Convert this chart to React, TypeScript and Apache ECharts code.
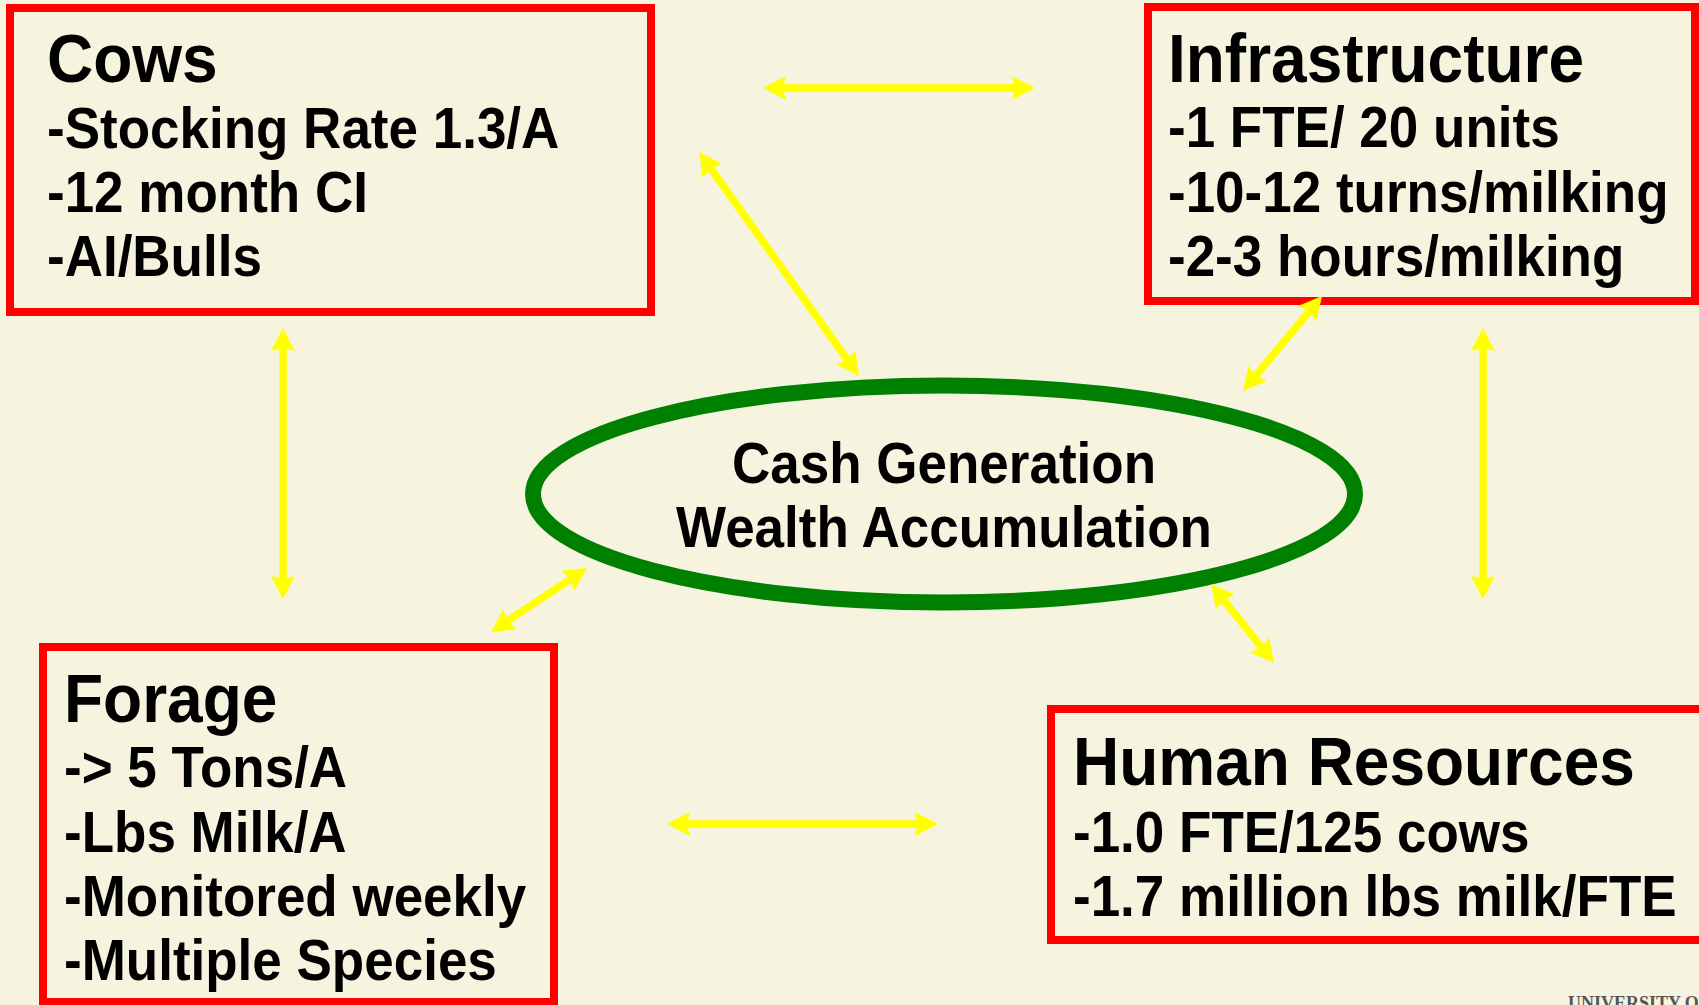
import React, { useEffect, useRef } from "react";
import * as echarts from "echarts";

// ---- content ----
const boxTitles = ["Cows", "Infrastructure", "Forage", "Human Resources"];
const cowsItems = ["-Stocking Rate 1.3/A", "-12 month CI", "-AI/Bulls"];
const infraItems = ["-1 FTE/ 20 units", "-10-12 turns/milking", "-2-3 hours/milking"];
const forageItems = ["-> 5 Tons/A", "-Lbs Milk/A", "-Monitored weekly", "-Multiple Species"];
const hrItems = ["-1.0 FTE/125 cows", "-1.7 million lbs milk/FTE"];
const centerLines = ["Cash Generation", "Wealth Accumulation"];
const footerText = "UNIVERSITY OF";

// ---- layout ----
const boxLayout = [
  { rect: [10, 8, 641, 304], textX: 47, baselines: [82, 148, 212, 276] },
  { rect: [1148, 7, 547, 294], textX: 1168, baselines: [82, 147, 212, 276] },
  { rect: [43, 647, 511, 355], textX: 64, baselines: [722, 787, 852, 916, 980] },
  { rect: [1051, 709, 700, 231], textX: 1073, baselines: [785, 852, 916] },
];
const arrowEnds: number[][][] = [
  [[763, 88], [1035, 88]],
  [[699, 152], [859, 376]],
  [[1322, 296], [1243, 391]],
  [[283, 328], [283, 599]],
  [[1483, 328], [1483, 599]],
  [[491, 632], [587, 568]],
  [[1211, 584], [1274, 663]],
  [[667, 824], [938, 824]],
];

const BG = "#F6F3DF";
const RED = "#FF0000";
const GREEN = "#008000";
const YELLOW = "#FFFF00";
const FONT = '"Liberation Sans", Arial, sans-serif';
const SY = 1.07;
const CENTRAL = 0.3465;

function textEl(text: string, x: number, baseline: number, size: number, align: string = "left") {
  return {
    type: "text",
    x,
    y: baseline - SY * CENTRAL * size,
    scaleY: SY,
    silent: true,
    style: {
      text,
      x: 0,
      y: 0,
      fill: "#000000",
      fontSize: size,
      fontWeight: "bold",
      fontFamily: FONT,
      align,
      verticalAlign: "middle",
      textAlign: align,
      textVerticalAlign: "middle",
    },
  };
}

function arrowEls(p1: number[], p2: number[]) {
  const L = 23, W = 12, notch = 3, lw = 7.5;
  const dx = p2[0] - p1[0], dy = p2[1] - p1[1];
  const len = Math.hypot(dx, dy);
  const ux = dx / len, uy = dy / len;
  const nx = -uy, ny = ux;
  const head = (p: number[], s: number) => {
    // s = +1 head at p1 pointing backward (direction -u), -1 for p2
    const bx = p[0] + s * ux * L, by = p[1] + s * uy * L;
    const mx = p[0] + s * ux * (L - notch), my = p[1] + s * uy * (L - notch);
    return {
      type: "polygon",
      silent: true,
      shape: {
        points: [
          [p[0], p[1]],
          [bx + nx * W, by + ny * W],
          [mx, my],
          [bx - nx * W, by - ny * W],
        ],
      },
      style: { fill: YELLOW },
    };
  };
  const a = L - notch - 1;
  return [
    {
      type: "line",
      silent: true,
      shape: {
        x1: p1[0] + ux * a,
        y1: p1[1] + uy * a,
        x2: p2[0] - ux * a,
        y2: p2[1] - uy * a,
      },
      style: { stroke: YELLOW, lineWidth: lw },
    },
    head(p1, 1),
    head(p2, -1),
  ];
}

export default function App() {
  const ref = useRef<HTMLDivElement>(null);
  useEffect(() => {
    if (!ref.current) return;
    const chart = echarts.init(ref.current, null, { renderer: "svg" });
    const items = [cowsItems, infraItems, forageItems, hrItems];
    const elements: any[] = [];

    boxLayout.forEach((b, i) => {
      elements.push({
        type: "rect",
        silent: true,
        shape: { x: b.rect[0], y: b.rect[1], width: b.rect[2], height: b.rect[3] },
        style: { fill: "none", stroke: RED, lineWidth: 8 },
      });
      elements.push(textEl(boxTitles[i], b.textX, b.baselines[0], 64));
      items[i].forEach((t, j) => {
        elements.push(textEl(t, b.textX, b.baselines[j + 1], 53));
      });
    });

    elements.push({
      type: "ellipse",
      silent: true,
      shape: { cx: 944, cy: 494, rx: 411, ry: 108.5 },
      style: { fill: "none", stroke: GREEN, lineWidth: 16 },
    });
    elements.push(textEl(centerLines[0], 944, 483, 53, "center"));
    elements.push(textEl(centerLines[1], 944, 547, 53, "center"));

    arrowEnds.forEach((e) => {
      arrowEls(e[0], e[1]).forEach((el) => elements.push(el));
    });

    elements.push({
      type: "text",
      x: 1568,
      y: 1003,
      silent: true,
      style: {
        text: footerText,
        x: 0,
        y: 0,
        fill: "#555555",
        fontSize: 18,
        fontWeight: "bold",
        fontFamily: '"Liberation Serif", "Times New Roman", serif',
        align: "left",
        verticalAlign: "middle",
        textAlign: "left",
        textVerticalAlign: "middle",
      },
    });

    chart.setOption({
      animation: false,
      backgroundColor: BG,
      graphic: { elements },
    });
    return () => chart.dispose();
  }, []);
  return (
    <div
      ref={ref}
      style={{ position: "fixed", left: 0, top: 0, width: "1699px", height: "1005px", background: BG }}
    />
  );
}
